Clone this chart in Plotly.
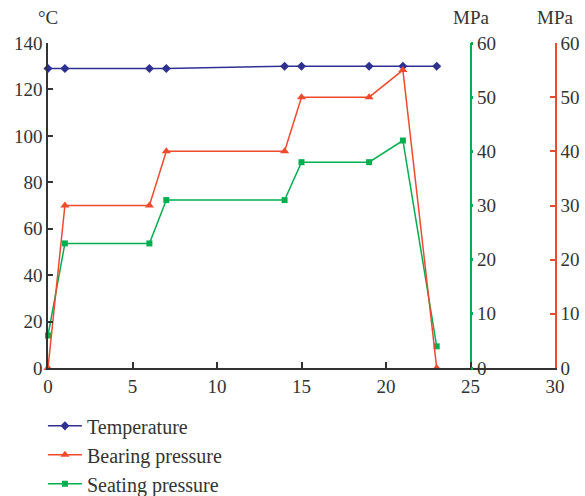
import plotly.graph_objects as go

time = [0, 1, 6, 7, 14, 15, 19, 21, 23]
temperature = [129, 129, 129, 129, 130, 130, 130, 130, 130]
bearing_pressure = [0, 30, 30, 40, 40, 50, 50, 55, 0]
seating_pressure = [6, 23, 23, 31, 31, 38, 38, 42, 4]

x_ticks = [0, 5, 10, 15, 20, 25, 30]
temp_ticks = [0, 20, 40, 60, 80, 100, 120, 140]
mpa_ticks = [0, 10, 20, 30, 40, 50, 60]

BLUE = "#2E3192"
RED = "#F04A2C"
GREEN = "#00B04F"
AX = "#333333"
FONT = "Liberation Serif"

fig = go.Figure()
fig.add_trace(go.Scatter(x=time, y=temperature, name="Temperature", mode="lines+markers",
                         line=dict(color=BLUE, width=1.5), marker=dict(symbol="diamond", size=7, color=BLUE),
                         cliponaxis=False, legendrank=1))
fig.add_trace(go.Scatter(x=time, y=seating_pressure, name="Seating pressure", mode="lines+markers",
                         line=dict(color=GREEN, width=1.5), marker=dict(symbol="square", size=6, color=GREEN),
                         yaxis="y2", cliponaxis=False, legendrank=3))
fig.add_trace(go.Scatter(x=time, y=bearing_pressure, name="Bearing pressure", mode="lines+markers",
                         line=dict(color=RED, width=1.5), marker=dict(symbol="triangle-up", size=8, color=RED),
                         yaxis="y3", cliponaxis=False, legendrank=2))

fig.update_layout(
    width=585, height=496,
    margin=dict(l=48, r=30, t=43, b=128, autoexpand=False),
    paper_bgcolor="white", plot_bgcolor="white",
    font=dict(family=FONT, size=19, color=AX),
    showlegend=True,
    legend=dict(orientation="v", x=-0.01, xanchor="left", y=-0.118, yanchor="top",
                font=dict(size=20, color=AX), itemwidth=34, traceorder="normal",
                bgcolor="rgba(0,0,0,0)"),
    xaxis=dict(range=[0, 30], tickvals=x_ticks, showgrid=False, zeroline=False,
               showline=True, linecolor=AX, linewidth=1.5, ticks="inside", ticklen=6,
               tickcolor=AX, tickwidth=1.5, domain=[0, 1]),
    yaxis=dict(range=[0, 140], tickvals=temp_ticks, showgrid=False, zeroline=False,
               showline=True, linecolor=AX, linewidth=1.5, ticks="inside", ticklen=5,
               tickcolor=AX, tickwidth=1.5),
    yaxis2=dict(range=[0, 60], tickvals=mpa_ticks, overlaying="y", anchor="free",
                position=25 / 30, side="right", showgrid=False, zeroline=False,
                showline=True, linecolor=GREEN, linewidth=1.5, ticks="outside", ticklen=2,
                tickwidth=3, tickcolor=GREEN),
    yaxis3=dict(range=[0, 60], tickvals=mpa_ticks, overlaying="y", anchor="x",
                side="right", showgrid=False, zeroline=False,
                showline=True, linecolor=RED, linewidth=1.5, ticks="inside", ticklen=5,
                tickwidth=1.5, tickcolor=RED),
    annotations=[
        dict(text="°C", x=0, y=1.077, xref="paper", yref="paper", showarrow=False,
             xanchor="center", yanchor="middle", font=dict(size=19, color=AX)),
        dict(text="MPa", x=25 / 30, y=1.077, xref="paper", yref="paper", showarrow=False,
             xanchor="center", yanchor="middle", font=dict(size=19, color=AX)),
        dict(text="MPa", x=1, y=1.077, xref="paper", yref="paper", showarrow=False,
             xanchor="center", yanchor="middle", font=dict(size=19, color=AX)),
    ],
)

fig.write_html("out.html")
